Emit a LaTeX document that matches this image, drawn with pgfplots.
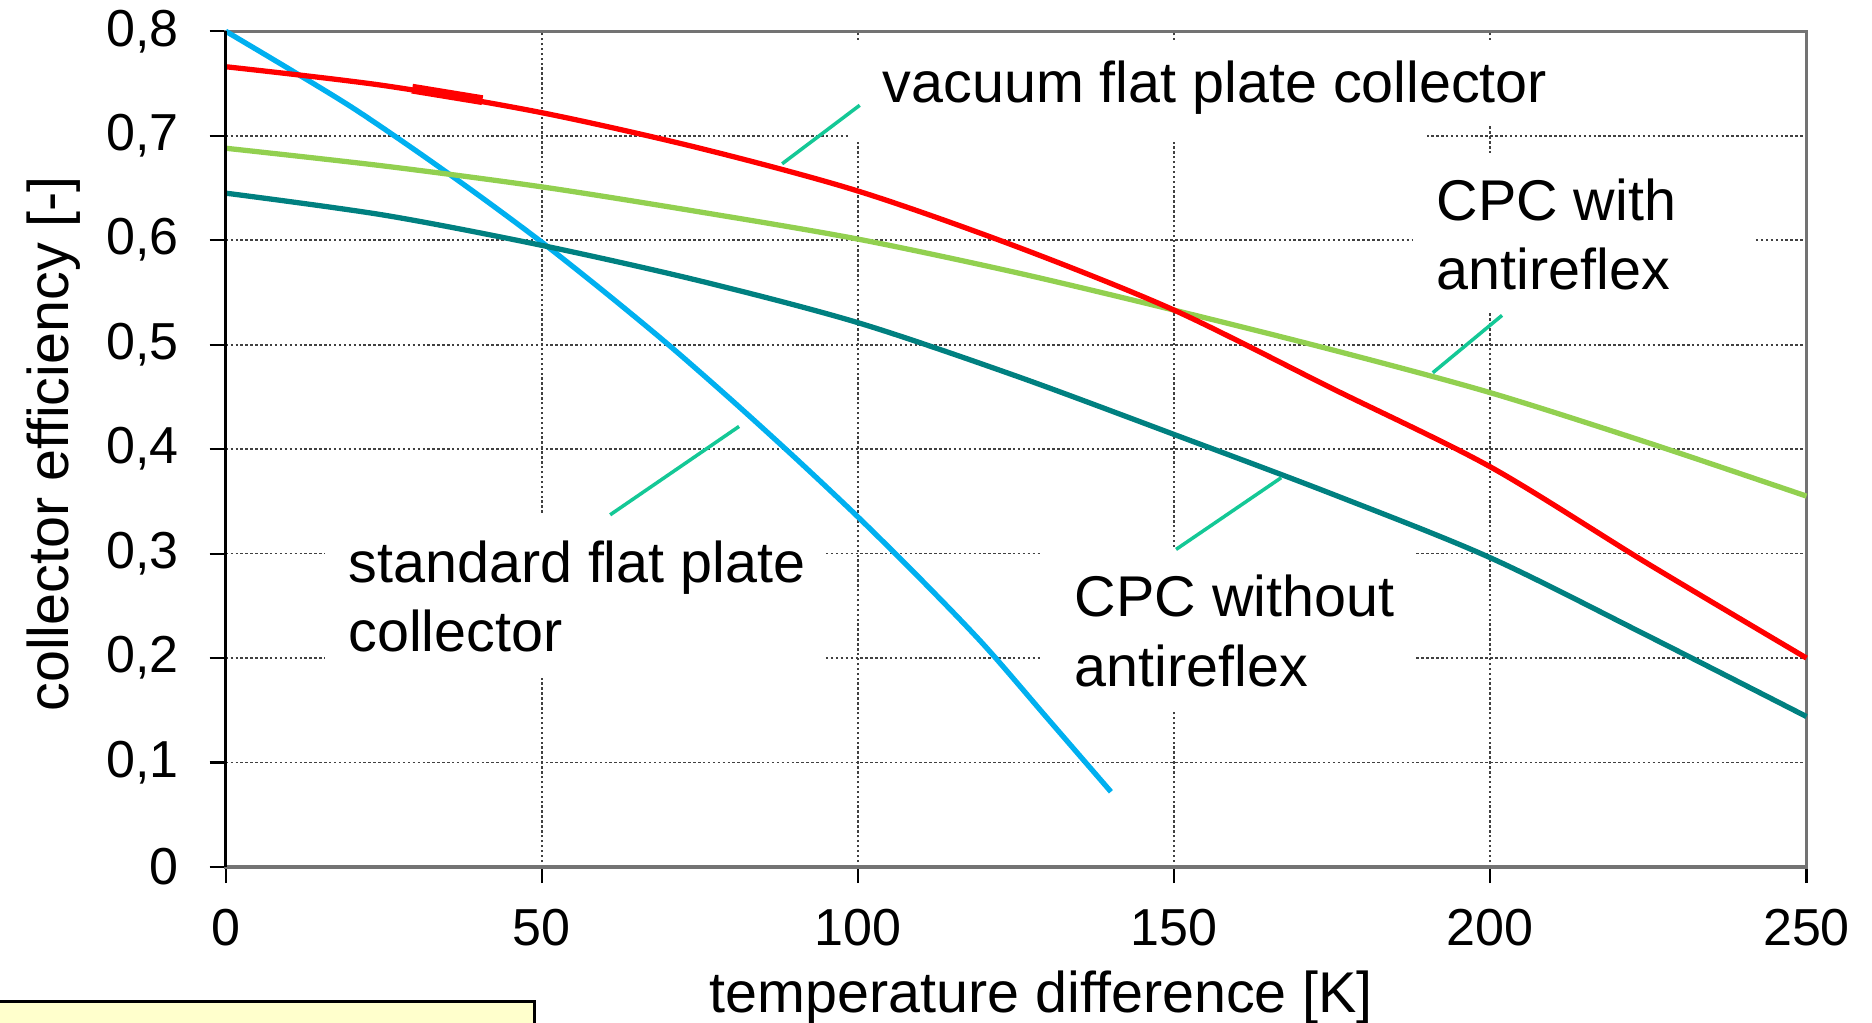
\documentclass[border=0pt]{standalone}
\usepackage{fontspec}
\setmainfont{Liberation Sans}
\usepackage{pgfplots}
\pgfplotsset{compat=1.18}

\definecolor{cred}{RGB}{255,0,0}
\definecolor{cblue}{RGB}{0,176,240}
\definecolor{cgreen}{RGB}{146,208,80}
\definecolor{cteal}{RGB}{0,128,128}
\definecolor{cmint}{RGB}{20,200,150}
\definecolor{cyellow}{RGB}{255,255,204}

\newcommand{\labfont}{\fontsize{16.35}{19.6}\selectfont}
\newcommand{\tickfont}{\fontsize{14.8}{17.8}\selectfont}

\begin{document}
\begin{tikzpicture}
\begin{axis}[
  at={(0,0)}, anchor=south west,
  scale only axis, width=158.08mm, height=83.58mm,
  xmin=0, xmax=250, ymin=0, ymax=0.8,
  xtick={0,50,100,150,200,250},
  ytick={0,0.1,0.2,0.3,0.4,0.5,0.6,0.7,0.8},
  xtick pos=bottom, ytick pos=left,
  tick align=outside, major tick length=1.6mm,
  tick style={black, line width=0.6pt},
  axis line style={draw=black!55, line width=0.9pt},
  grid=major,
  major grid style={black!75, line width=0.5pt, dash pattern=on 0.7pt off 0.7pt},
  ticklabel style={font=\tickfont},
  xticklabel style={inner sep=0pt, anchor=north, yshift=-2.55mm},
  yticklabel style={inner sep=0pt, anchor=east, xshift=-3.05mm,
    /pgf/number format/.cd, use comma, fixed, precision=1},
  /pgf/number format/assume math mode=true,
  clip=false,
  every axis plot/.append style={line width=1.5pt, no markers}]

% white boxes behind the labels
\fill[white] (axis cs:98.5,0.6938) rectangle (axis cs:190.0,0.7914);
\fill[white] (axis cs:98.5,0.7113) rectangle (axis cs:211.0,0.7914);
\fill[white] (axis cs:187.8,0.530) rectangle (axis cs:241.5,0.683);
\fill[white] (axis cs:15.69,0.182) rectangle (axis cs:94.78,0.3384);
\fill[white] (axis cs:129.05,0.150) rectangle (axis cs:188.1,0.3049);

% standard flat plate collector
\addplot[cblue, smooth] coordinates {(0,0.800)(10,0.764)(20,0.727)(30,0.686)(40,0.643)
  (50,0.598)(60,0.550)(70,0.500)(80,0.447)(90,0.392)(100,0.335)(110,0.275)
  (120,0.212)(130,0.142)(140,0.072)};
% CPC without antireflex
\addplot[cteal, smooth] coordinates {(0,0.645)(25,0.624)(50,0.595)(75,0.561)(100,0.521)
  (125,0.470)(150,0.414)(175,0.357)(200,0.296)(225,0.221)(250,0.144)};
% CPC with antireflex
\addplot[cgreen, smooth] coordinates {(0,0.688)(25,0.671)(50,0.651)(75,0.627)(100,0.601)
  (125,0.569)(150,0.533)(175,0.495)(200,0.454)(225,0.406)(250,0.355)};
% vacuum flat plate collector
\addplot[cred, smooth] coordinates {(0,0.766)(25,0.748)(50,0.722)(75,0.688)(100,0.647)
  (125,0.594)(150,0.533)(175,0.458)(200,0.383)(225,0.290)(250,0.200)};
\addplot[cred, line width=2.8pt] coordinates {(29.5,0.745)(40.6,0.734)};

% leader lines
\draw[cmint, line width=1pt] (axis cs:88.0,0.6731) -- (axis cs:100.27,0.7291);
\draw[cmint, line width=1pt] (axis cs:190.9,0.4731) -- (axis cs:201.85,0.528);
\draw[cmint, line width=1pt] (axis cs:60.8,0.3371) -- (axis cs:81.19,0.4217);
\draw[cmint, line width=1pt] (axis cs:150.3,0.304) -- (axis cs:166.92,0.3726);

\node[anchor=base west, inner sep=0pt, font=\labfont] at (axis cs:103.8,0.7316) {vacuum flat plate collector};
\node[anchor=base west, inner sep=0pt, font=\labfont] at (axis cs:191.4,0.6191) {CPC with};
\node[anchor=base west, inner sep=0pt, font=\labfont] at (axis cs:191.4,0.5530) {antireflex};
\node[anchor=base west, inner sep=0pt, font=\labfont] at (axis cs:19.31,0.2723) {standard flat plate};
\node[anchor=base west, inner sep=0pt, font=\labfont] at (axis cs:19.31,0.2059) {collector};
\node[anchor=base west, inner sep=0pt, font=\labfont] at (axis cs:134.2,0.2394) {CPC without};
\node[anchor=base west, inner sep=0pt, font=\labfont] at (axis cs:134.2,0.1731) {antireflex};

% black left axis line
\draw[black, line width=0.9pt] (rel axis cs:0,0) -- (rel axis cs:0,1);

% axis titles
\node[anchor=base, inner sep=0pt, font=\labfont] at (axis cs:129,-0.1395) {temperature difference [K]};
\node[anchor=base, rotate=90, inner sep=0pt, font=\labfont] at (axis cs:-24.9,0.405) {collector efficiency [-]};

% cut-off note box below the chart
\draw[black, line width=0.8pt, fill=cyellow] (axis cs:-36,-0.1291) rectangle (axis cs:48.9,-0.2);
\end{axis}
\pgfresetboundingbox
\path[use as bounding box] (-22.57mm,-15.52mm) rectangle (164.63mm,86.70mm);
\end{tikzpicture}
\end{document}
